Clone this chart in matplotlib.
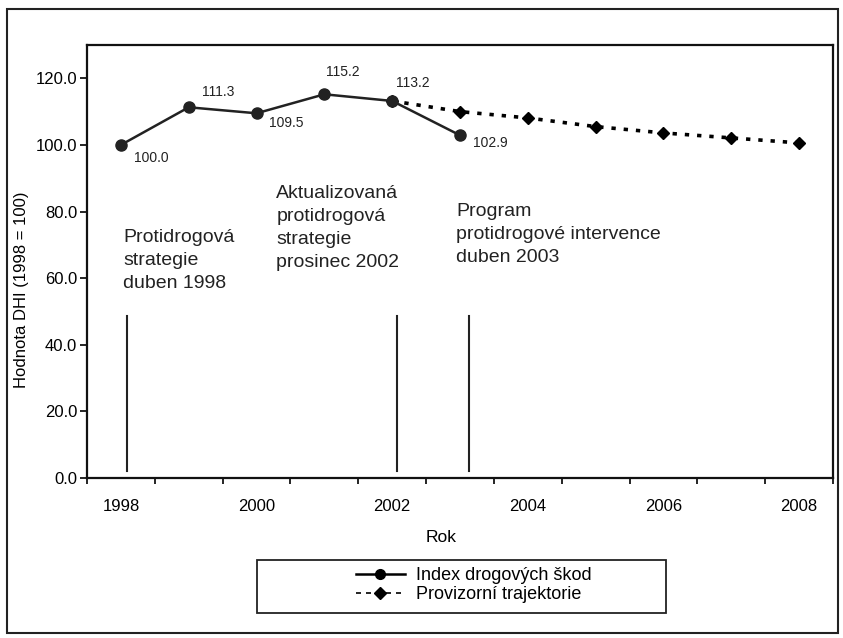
import matplotlib
matplotlib.use('Agg')
import matplotlib.pyplot as plt
from matplotlib.patches import Rectangle
from matplotlib.lines import Line2D

# --- data ---
roky = [1998, 1999, 2000, 2001, 2002, 2003]
dhi = [100.0, 111.3, 109.5, 115.2, 113.2, 102.9]
# posun popisku (px) kolem bodu
posun = [(30, -13), (29, 15), (30, -10), (18, 22), (21, 18), (30, -8)]

roky_traj = [2002, 2003, 2004, 2005, 2006, 2007, 2008]
traj = [113.2, 110.0, 108.1, 105.5, 103.6, 102.1, 100.6]

udalosti_x = [1998.09, 2002.07, 2003.13]
udalosti_y = (2.0, 48.5)
udalosti_text = ["Protidrogová\nstrategie\nduben 1998",
                 "Aktualizovaná\nprotidrogová\nstrategie\nprosinec 2002",
                 "Program\nprotidrogové intervence\nduben 2003"]
text_pos = [(1998.03, 74.8), (2000.29, 88.0), (2002.94, 82.6)]

plt.rcParams['font.family'] = ['Liberation Sans', 'DejaVu Sans']

fig = plt.figure(figsize=(8.43, 6.38), dpi=100)
W, H = 843, 638
ax = fig.add_axes([87 / W, 1 - 478 / H, (833 - 87) / W, (478 - 45) / H])

# ramecek kolem celeho grafu
fig.patches.append(Rectangle((7 / W, 1 - 633 / H), 831 / W, 624 / H, transform=fig.transFigure,
                             fill=False, edgecolor='#222222', linewidth=1.5))

# svisle cary udalosti + texty
for x in udalosti_x:
    ax.plot([x, x], udalosti_y, color='#222222', linewidth=1.5)
for (tx, ty), t in zip(text_pos, udalosti_text):
    ax.text(tx, ty, t, fontsize=14, ha='left', va='top', linespacing=1.46, color='#222222')

ax.plot(roky_traj, traj, color='black', linestyle=(0, (1.2, 2.2)), linewidth=2.6,
        marker='D', markersize=6.5)
ax.plot(roky, dhi, color='#222222', linewidth=1.8, marker='o', markersize=8)

for x, y, (dx, dy) in zip(roky, dhi, posun):
    ax.annotate(f"{y:.1f}", (x, y), xytext=(dx, dy), textcoords='offset pixels',
                ha='center', va='center', fontsize=10, color='#222222')

ax.set_xlim(1997.5, 2008.5)
ax.set_ylim(0, 130)
ax.set_xticks(range(1998, 2009, 2))
ax.set_xticks([r + 0.5 for r in range(1997, 2009)], minor=True)
ax.tick_params(axis='x', which='major', length=0, pad=15, labelsize=12)
ax.tick_params(axis='x', which='minor', length=4, width=1.2, direction='out')
ax.set_yticks(range(0, 121, 20))
ax.set_yticklabels([f"{v:.1f}" for v in range(0, 121, 20)])
ax.tick_params(axis='y', length=5, width=1.2, labelsize=12, pad=2)
for s in ax.spines.values():
    s.set_linewidth(1.6)
    s.set_color('#111111')

fig.text(441 / W, 1 - 537 / H, "Rok", ha='center', va='center', fontsize=12.5)
fig.text(22 / W, 1 - 290 / H, "Hodnota DHI (1998 = 100)", ha='center', va='center',
         rotation=90, fontsize=12)

# legenda
fig.patches.append(Rectangle((257 / W, 1 - 613 / H), (666 - 257) / W, (613 - 560) / H,
                             transform=fig.transFigure, fill=False, edgecolor='#222222', linewidth=1.3))
h1 = Line2D([], [], color='black', linewidth=1.8, marker='o', markersize=7)
h2 = Line2D([], [], color='black', linewidth=1.2, linestyle=(0, (3, 3)), marker='D', markersize=6)
fig.legend([h1, h2], ["Index drogových škod", "Provizorní trajektorie"], loc='center left',
           bbox_to_anchor=(347 / W, 1 - 585 / H), frameon=False, fontsize=13,
           handlelength=2.7, labelspacing=0.1, handletextpad=0.6, borderpad=0)

fig.savefig('out.png', dpi=100, facecolor='white')
